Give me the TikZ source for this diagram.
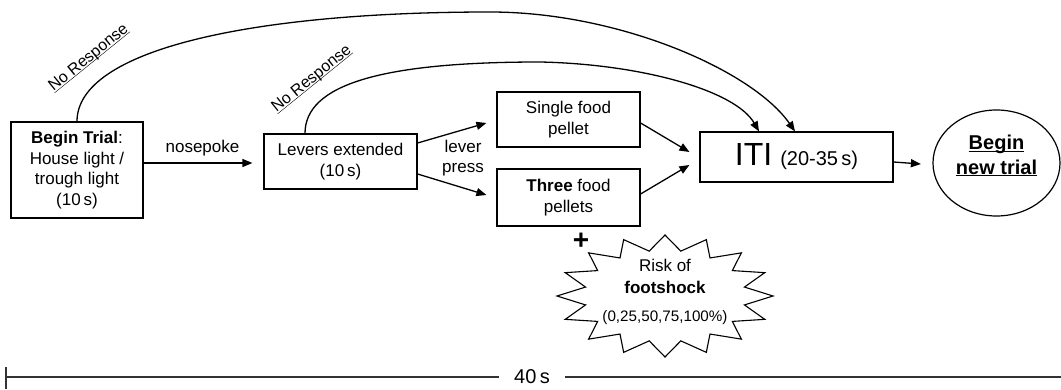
\documentclass[tikz,border=0pt]{standalone}
\usepackage{fontspec}
\setmainfont{Liberation Sans}
\usetikzlibrary{arrows.meta,shapes.geometric}
\newcommand{\ulx}[1]{\underline{\smash{#1}}}
\begin{document}
\begin{tikzpicture}[x=1pt,y=-1pt,
  every node/.style={font=\fontsize{17}{20.5}\selectfont, inner sep=0pt},
  box/.style={draw, line width=1.2pt, align=center},
  arr/.style={-{Triangle[length=10pt,width=8pt]}, line width=1.3pt},
  nr/.style={rotate=39, font=\fontsize{16}{19}\selectfont},
  lbl/.style={align=center},
  tline/.style={line width=1.6pt, draw=black!80}
]
\useasboundingbox (0,0) rectangle (1061,390);

% boxes
\node[box, minimum width=132pt, minimum height=96pt] (bt) at (77,170)
  {\textbf{Begin Trial}:\\House light /\\trough light\\(10\,s)};
\node[box, minimum width=153pt, minimum height=55pt] (lev) at (340.5,161.5)
  {Levers extended\\(10\,s)};
\node[box, minimum width=143pt, minimum height=55pt] (sfp) at (568.5,119.5)
  {Single food\\pellet};
\node[box, minimum width=143pt, minimum height=57pt] (tfp) at (568.5,197.5)
  {\textbf{Three} food\\pellets};
\node[box, minimum width=193pt, minimum height=50pt] (iti) at (796.5,157)
  {{\fontsize{32}{32}\selectfont ITI}\hspace{8pt}{\fontsize{20}{24}\selectfont (20-35\,s)}};
\node[draw, ellipse, line width=1.2pt, minimum width=127pt, minimum height=106pt,
  align=center, font=\fontsize{20}{24.5}\selectfont\bfseries] (bnt) at (996.5,163)
  {\ulx{Begin}\\\ulx{new trial}};

% labels
\node[lbl] (np) at (202.5,148) {nosepoke};
\node[lbl] (lp) at (463,158) {lever\\press};
\node[nr] (nr1) at (92,62) {\ulx{No Response}};
\node[nr] (nr2) at (315,83) {\ulx{No Response}};

% straight arrows
\draw[arr] ([yshift=7pt]bt.east) -- ([xshift=-11pt,yshift=-1.5pt]lev.west);
\draw[arr] ([yshift=18.5pt]lev.east) -- ([xshift=-10pt,yshift=-3.5pt]sfp.west);
\draw[arr] ([yshift=-12.5pt]lev.east) -- ([xshift=-10pt,yshift=2.5pt]tfp.west);
\draw[arr] ([yshift=-3.5pt]sfp.east) -- ([xshift=-10pt,yshift=5pt]iti.west);
\draw[arr] ([yshift=3.5pt]tfp.east) -- ([xshift=-10pt,yshift=-8pt]iti.west);
\draw[arr] ([yshift=-5pt]iti.east) -- ([xshift=-11.5pt,yshift=-1pt]bnt.west);

% curved "No Response" arrows
\draw[arr] (bt.north) .. controls (77,50) and (250,12) .. (490,12)
  .. controls (620,12) and (753,71) .. ([xshift=-1.5pt]iti.north);
\draw[arr] ([xshift=-35.5pt]lev.north) .. controls (305,85) and (380,62) .. (540,62)
  .. controls (640,64) and (735,90) .. ([xshift=-37.5pt]iti.north);

% plus sign
\node[font=\fontsize{28}{28}\selectfont\bfseries] (plus) at (581,241) {+};

% starburst
\coordinate (st) at (665,296);
\draw[line width=1.1pt, shift={(st)}] (108,0)
  \foreach \i in {1,...,31}{ -- ({ifthenelse(isodd(\i),81,108)*cos(\i*11.25)},{ifthenelse(isodd(\i),45.75,61)*sin(\i*11.25)}) } -- cycle;
\node[anchor=base] (r1) at (665,272) {Risk of};
\node[anchor=base] (r2) at (665,294) {\textbf{footshock}};
\node[anchor=base, font=\fontsize{15.2}{18}\selectfont] (r3) at (665,321) {(0,25,50,75,100\%)};

% timeline
\coordinate (tl) at (6,377);
\coordinate (tr) at (1061,377);
\node[font=\fontsize{20}{24}\selectfont, inner xsep=15pt] (forty) at (532,377) {40\,s};
\draw[tline] (tl) -- (forty.west);
\draw[tline] (forty.east) -- (tr);
\draw[tline] ([yshift=10pt]tl) -- ([yshift=-12pt]tl);
\end{tikzpicture}
\end{document}
